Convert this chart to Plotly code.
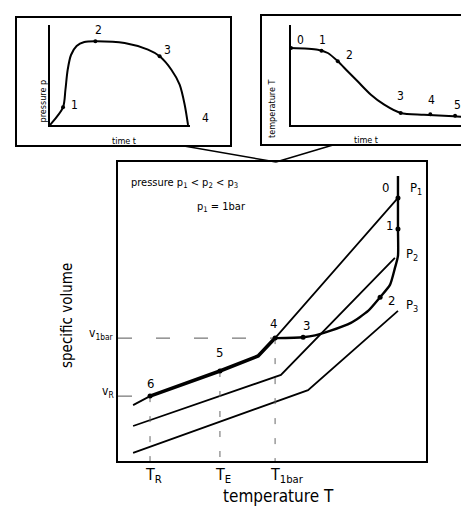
import plotly.graph_objects as go

W, H = 469, 511
FONT = "DejaVu Sans Condensed, DejaVu Sans, sans-serif"

# ---------------- main pvT diagram (arbitrary units 0..100) ----------------
p1_T = [4.9, 10.4, 33.1, 45.5, 51.0, 90.9]
p1_v = [18.7, 21.7, 30.1, 35.1, 41.1, 88.0]
p2_T = [4.9, 52.9, 89.9]
p2_v = [11.7, 28.8, 67.9]
p3_T = [4.9, 61.7, 90.9]
p3_v = [2.7, 23.7, 50.2]
isobar_names = ["P<sub>1</sub>", "P<sub>2</sub>", "P<sub>3</sub>"]

# process path 0 -> 1 -> 2 -> 3 -> 4 (then along p1 to 5, 6)
path_T = [90.9, 90.9, 90.9, 90.9, 89.9, 88.3, 85.1, 81.2, 75.6, 68.8, 64.0, 60.1, 51.0]
path_v = [95.3, 88.0, 77.6, 68.6, 64.5, 58.9, 54.8, 50.2, 46.2, 43.5, 42.0, 41.4, 41.1]
cool_T = [51.0, 45.5, 33.1, 10.4]
cool_v = [41.1, 35.1, 30.1, 21.7]

state_names = ["0", "1", "2", "3", "4", "5", "6"]
state_T = [90.9, 90.9, 85.1, 60.1, 51.0, 33.1, 10.4]
state_v = [88.0, 77.6, 54.8, 41.4, 41.1, 30.1, 21.7]

temp_ticks = [10.4, 33.1, 51.0]
temp_ticktext = ["T<sub>R</sub>", "T<sub>E</sub>", "T<sub>1bar</sub>"]
vol_ticks = [41.1, 21.7]
vol_ticktext = ["v<sub>1bar</sub>", "v<sub>R</sub>"]

# ---------------- inset: pressure over time ----------------
pt_t = [0, 9.3, 11.0, 12.6, 15.0, 19.0, 24.5, 32.4, 53.3, 70.0, 78.3, 86.7, 92.6, 96.2, 98.6]
pt_p = [0, 17.7, 35.0, 55.0, 70.0, 79.0, 83.0, 83.7, 82.0, 75.3, 68.7, 55.3, 40.3, 20.3, 0]
pt_state = ["1", "2", "3", "4"]
pt_state_t = [9.3, 32.4, 78.3, 98.6]
pt_state_p = [17.7, 83.7, 68.7, 0]

# ---------------- inset: temperature over time ----------------
tt_t = [0, 14.5, 19.9, 25.3, 30.6, 36.0, 43.2, 50.4, 59.3, 71.9, 88.0, 100]
tt_T = [77, 75.3, 72, 63.7, 53.7, 43.7, 30.3, 20.3, 12, 10.3, 8.7, 7]
tt_state = ["0", "1", "2", "3", "4", "5"]
tt_state_t = [0, 16.5, 25.3, 59.3, 75.3, 88.7]
tt_state_T = [77, 74.3, 63.7, 12, 10.8, 9.2]

fig = go.Figure()

def px_x(p):
    return p / W

def px_y(p):
    return 1 - p / H

# isobars
for T, v in [(p1_T, p1_v), (p2_T, p2_v), (p3_T, p3_v)]:
    fig.add_trace(go.Scatter(x=T, y=v, mode="lines", line=dict(color="black", width=1.8),
                             hoverinfo="skip", showlegend=False))
# process path
fig.add_trace(go.Scatter(x=path_T, y=path_v, mode="lines",
                         line=dict(color="black", width=2.4, shape="spline", smoothing=0.6),
                         showlegend=False))
fig.add_trace(go.Scatter(x=cool_T, y=cool_v, mode="lines", line=dict(color="black", width=3.6),
                         showlegend=False))
# reference dashed lines
for T, v in zip(temp_ticks, [state_v[6], state_v[5], state_v[4]]):
    fig.add_trace(go.Scatter(x=[T, T], y=[v, 0], mode="lines",
                             line=dict(color="#666", width=1, dash="6px,14px"), showlegend=False))
for v, T in zip(vol_ticks, [state_T[4], state_T[6]]):
    fig.add_trace(go.Scatter(x=[0, T], y=[v, v], mode="lines",
                             line=dict(color="#555", width=1, dash="14px,24px"), showlegend=False))
# state markers
fig.add_trace(go.Scatter(x=state_T, y=state_v, mode="markers",
                         marker=dict(color="black", size=5), showlegend=False))

# ---- inset curves
fig.add_trace(go.Scatter(x=pt_t, y=pt_p, xaxis="x2", yaxis="y2", mode="lines",
                         line=dict(color="black", width=2, shape="spline", smoothing=0.8), showlegend=False))
fig.add_trace(go.Scatter(x=pt_state_t[:3], y=pt_state_p[:3], xaxis="x2", yaxis="y2", mode="markers",
                         marker=dict(color="black", size=4), showlegend=False))
fig.add_trace(go.Scatter(x=tt_t, y=tt_T, xaxis="x3", yaxis="y3", mode="lines",
                         line=dict(color="black", width=2, shape="spline", smoothing=0.8), showlegend=False))
fig.add_trace(go.Scatter(x=tt_state_t, y=tt_state_T, xaxis="x3", yaxis="y3", mode="markers",
                         marker=dict(color="black", size=4), showlegend=False))

ann = []
# state labels in main chart
state_dx = [-12, -8, 11, 3, -2, 0, 0]
state_dy = [10, 3, -3, 12, 15, 19, 13]
for n, T, v, dx, dy in zip(state_names, state_T, state_v, state_dx, state_dy):
    ann.append(dict(x=T, y=v, xref="x", yref="y", text=n, showarrow=False, xshift=dx, yshift=dy,
                    font=dict(size=13, color="black", family=FONT)))
iso_end_T = [p1_T[-1], p2_T[-1], p3_T[-1]]
iso_end_v = [p1_v[-1], p2_v[-1], p3_v[-1]]
for n, T, v, dx, dy in zip(isobar_names, iso_end_T, iso_end_v, [18, 17, 14], [9, 3, 5]):
    ann.append(dict(x=T, y=v, xref="x", yref="y", text=n, showarrow=False, xshift=dx, yshift=dy,
                    font=dict(size=13, color="black", family=FONT)))
# tick labels
for T, t in zip(temp_ticks, temp_ticktext):
    ann.append(dict(x=T, y=px_y(453), xref="x", yref="paper", text=t, showarrow=False,
                    xanchor="left", yanchor="top", xshift=-7, yshift=-2,
                    font=dict(size=16, color="black", family=FONT)))
for v, t in zip(vol_ticks, vol_ticktext):
    ann.append(dict(x=0, y=v, xref="x", yref="y", text=t, showarrow=False,
                    xanchor="right", xshift=-2, yshift=4,
                    font=dict(size=12, color="black", family=FONT)))
# axis titles & notes
ann += [
    dict(x=px_x(48), y=px_y(308), xref="paper", yref="paper", text="specific volume", textangle=-90,
         showarrow=False, font=dict(size=15, color="black", family=FONT)),
    dict(x=px_x(270), y=px_y(500), xref="paper", yref="paper", text="temperature T",
         showarrow=False, font=dict(size=17, color="black", family=FONT)),
    dict(x=px_x(121), y=px_y(175), xref="paper", yref="paper", xanchor="left",
         text="pressure p<sub>1</sub> < p<sub>2</sub> < p<sub>3</sub>",
         showarrow=False, font=dict(size=11, color="black", family=FONT)),
    dict(x=px_x(187), y=px_y(199), xref="paper", yref="paper", xanchor="left",
         text="p<sub>1</sub> = 1bar",
         showarrow=False, font=dict(size=11, color="black", family=FONT)),
    # inset titles
    dict(x=px_x(27), y=px_y(70), xref="paper", yref="paper", text="pressure p", textangle=-90,
         showarrow=False, font=dict(size=9, color="black", family=FONT)),
    dict(x=px_x(102), y=px_y(126), xref="paper", yref="paper", text="time t",
         showarrow=False, font=dict(size=9, color="black", family=FONT)),
    dict(x=px_x(264), y=px_y(70), xref="paper", yref="paper", text="temperature T", textangle=-90,
         showarrow=False, font=dict(size=9, color="black", family=FONT)),
    dict(x=px_x(372), y=px_y(125), xref="paper", yref="paper", text="time t",
         showarrow=False, font=dict(size=9, color="black", family=FONT)),
]
# inset state labels
for n, t, p, dx, dy in zip(pt_state, pt_state_t, pt_state_p, [11, 3, 8, 17], [2, 11, 6, 7]):
    ann.append(dict(x=t, y=p, xref="x2", yref="y2", text=n, showarrow=False, xshift=dx, yshift=dy,
                    font=dict(size=12, color="black", family=FONT)))
for n, t, T, dx, dy in zip(tt_state, tt_state_t, tt_state_T, [9, 1, 12, 0, 1, 2], [8, 11, 6, 17, 14, 11]):
    ann.append(dict(x=t, y=T, xref="x3", yref="y3", text=n, showarrow=False, xshift=dx, yshift=dy,
                    font=dict(size=12, color="black", family=FONT)))

shapes = [
    dict(type="rect", xref="paper", yref="paper", x0=px_x(8), x1=px_x(223), y0=px_y(138), y1=px_y(9),
         line=dict(color="black", width=2)),
    dict(type="rect", xref="paper", yref="paper", x0=px_x(253), x1=px_x(468), y0=px_y(137), y1=px_y(7),
         line=dict(color="black", width=2)),
    dict(type="line", xref="paper", yref="paper", x0=px_x(176), y0=px_y(138), x1=px_x(268), y1=px_y(154),
         line=dict(color="black", width=1.5)),
    dict(type="line", xref="paper", yref="paper", x0=px_x(325), y0=px_y(137), x1=px_x(268), y1=px_y(154),
         line=dict(color="black", width=1.5)),
]

axis_common = dict(showgrid=False, zeroline=False, showticklabels=False, ticks="")
fig.update_layout(
    width=W, height=H, margin=dict(l=0, r=0, t=0, b=0),
    paper_bgcolor="white", plot_bgcolor="rgba(0,0,0,0)",
    showlegend=False,
    xaxis=dict(domain=[px_x(110), px_x(418)], range=[0, 100], showline=True, mirror=True,
               linecolor="black", linewidth=2, **axis_common),
    yaxis=dict(domain=[px_y(453), px_y(154)], range=[0, 100], showline=True, mirror=True,
               linecolor="black", linewidth=2, **axis_common),
    xaxis2=dict(domain=[px_x(42), px_x(182)], range=[0, 100], anchor="y2", showline=True,
                linecolor="black", linewidth=2, **axis_common),
    yaxis2=dict(domain=[px_y(117), px_y(17)], range=[0, 100], anchor="x2", showline=True,
                linecolor="black", linewidth=2, **axis_common),
    xaxis3=dict(domain=[px_x(283), px_x(468)], range=[0, 100], anchor="y3", showline=True,
                linecolor="black", linewidth=2, **axis_common),
    yaxis3=dict(domain=[px_y(117), px_y(17)], range=[0, 100], anchor="x3", showline=True,
                linecolor="black", linewidth=2, **axis_common),
    annotations=ann, shapes=shapes,
)

fig.write_html("out.html")
